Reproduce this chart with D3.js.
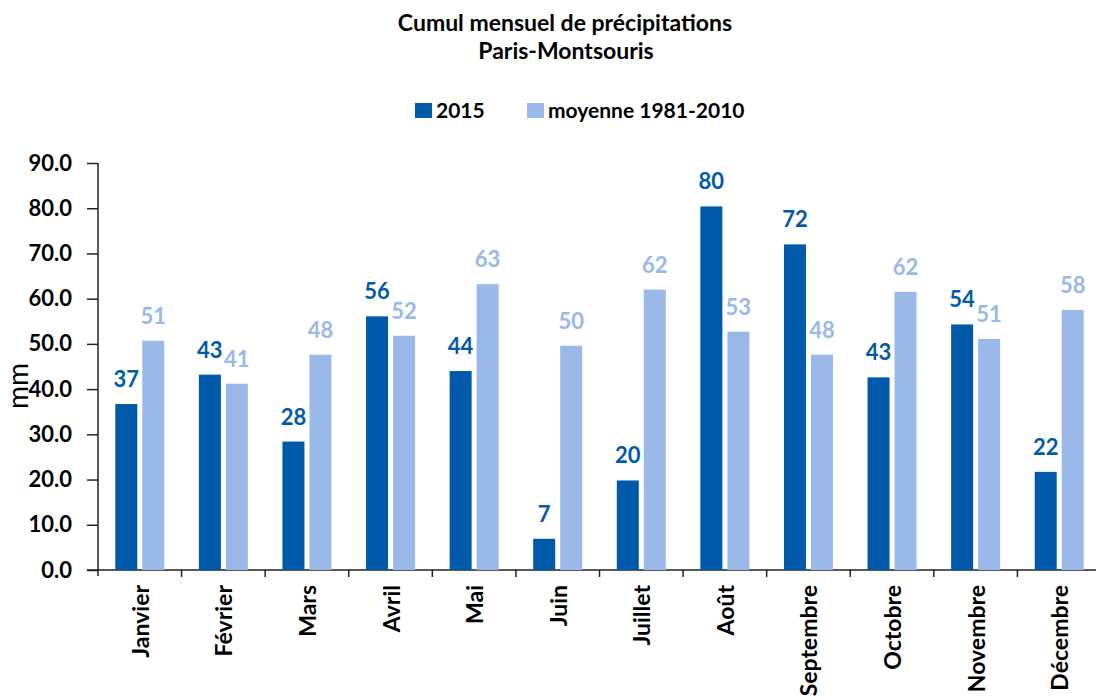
<!DOCTYPE html>
<html>
<head>
<meta charset="utf-8">
<script src="https://cdn.jsdelivr.net/npm/d3@7"></script>
<style>
  body { margin: 0; background: #fff; }
  text { font-family: Lato, "Noto Sans", sans-serif; }
</style>
</head>
<body>
<svg></svg>
<script>
const months = ["Janvier","Février","Mars","Avril","Mai","Juin","Juillet","Août","Septembre","Octobre","Novembre","Décembre"]
const rain2015 = [36.7, 43.2, 28.4, 56.1, 44.0, 6.9, 19.8, 80.4, 72.0, 42.6, 54.3, 21.7]
const normals = [50.7, 41.2, 47.6, 51.8, 63.2, 49.6, 62.0, 52.7, 47.6, 61.5, 51.1, 57.5]
const seriesNames = ["2015", "moyenne 1981-2010"]
const yTicks = [0, 10, 20, 30, 40, 50, 60, 70, 80, 90]

const W = 1096, H = 700
const c2015 = "#005aaa", cAvg = "#9ab8e8"

const svg = d3.select("svg")
  .attr("width", W)
  .attr("height", H)

let x = d3.scaleBand()
  .domain(months)
  .range([98, 1101])
let x1 = d3.scaleBand()
  .domain(seriesNames)
  .range([0, x.bandwidth()])
  .paddingInner(0.185)
  .paddingOuter(0.64)
let y = d3.scaleLinear()
  .domain([0, 90])
  .range([570, 163])
let color = d3.scaleOrdinal()
  .domain(seriesNames)
  .range([c2015, cAvg])

// titles
svg.append("text")
  .attr("x", 565).attr("y", 31)
  .attr("text-anchor", "middle")
  .style("font-size", "23px").style("font-weight", "bold")
  .text("Cumul mensuel de précipitations")
svg.append("text")
  .attr("x", 566).attr("y", 59)
  .attr("text-anchor", "middle")
  .style("font-size", "23px").style("font-weight", "bold")
  .text("Paris-Montsouris")

// legend
const legendX = [415, 527]
const legend = svg.append("g").selectAll("g")
  .data(seriesNames)
  .enter().append("g")
  .attr("transform", (d, i) => "translate(" + legendX[i] + ",103)")
legend.append("rect")
  .attr("width", 17).attr("height", 15)
  .attr("fill", d => color(d))
legend.append("text")
  .attr("x", 21).attr("y", 15)
  .style("font-size", "21px").style("font-weight", "bold")
  .text(d => d)

// y axis
const yAxis = svg.append("g")
  .attr("transform", "translate(98,0)")
  .call(d3.axisLeft(y).tickValues(yTicks).tickFormat(d3.format(".1f")).tickSize(11).tickPadding(15))
yAxis.select(".domain").attr("d", "M0," + y(90) + "V576").attr("stroke", "#222").attr("stroke-width", 1.5)
yAxis.selectAll(".tick line").attr("stroke", "#222").attr("stroke-width", 1.5)
yAxis.selectAll(".tick text")
  .style("font-size", "22px").style("font-weight", "bold")
  .style("font-family", "Lato, 'Noto Sans', sans-serif")
  .attr("fill", "#000")

svg.append("text")
  .attr("transform", "translate(28,386) rotate(-90)")
  .attr("text-anchor", "middle")
  .style("font-size", "28px")
  .text("mm")

// x axis
const xAxis = svg.append("g")
  .attr("transform", "translate(0,570)")
xAxis.append("line")
  .attr("x1", 87).attr("x2", 1101)
  .attr("stroke", "#222").attr("stroke-width", 1.5)
xAxis.selectAll("line.tk")
  .data(months.slice(1))
  .enter().append("line")
  .attr("class", "tk")
  .attr("x1", d => x(d)).attr("x2", d => x(d))
  .attr("y1", 0).attr("y2", 7)
  .attr("stroke", "#222").attr("stroke-width", 1.5)
xAxis.selectAll("text")
  .data(months)
  .enter().append("text")
  .attr("transform", d => "translate(" + (x(d) + x.bandwidth() / 2 + 9) + ",15) rotate(-90)")
  .attr("text-anchor", "end")
  .style("font-size", "23px").style("font-weight", "bold")
  .text(d => d)

// bars
const rows = months.map((m, i) => ({ month: m, vals: [
  { s: seriesNames[0], v: rain2015[i] },
  { s: seriesNames[1], v: normals[i] }
] }))

const groups = svg.append("g").selectAll("g")
  .data(rows)
  .enter().append("g")
  .attr("transform", d => "translate(" + x(d.month) + ",0)")

groups.selectAll("rect")
  .data(d => d.vals)
  .enter().append("rect")
  .attr("x", d => x1(d.s))
  .attr("width", x1.bandwidth())
  .attr("y", d => y(d.v))
  .attr("height", d => y(0) - y(d.v))
  .attr("fill", d => color(d.s))

groups.selectAll("text")
  .data(d => d.vals)
  .enter().append("text")
  .attr("x", d => x1(d.s) + x1.bandwidth() / 2)
  .attr("y", d => y(d.v) - 17)
  .attr("text-anchor", "middle")
  .style("font-size", "22px").style("font-weight", "bold")
  .attr("fill", d => color(d.s))
  .text(d => Math.round(d.v))
</script>
</body>
</html>
